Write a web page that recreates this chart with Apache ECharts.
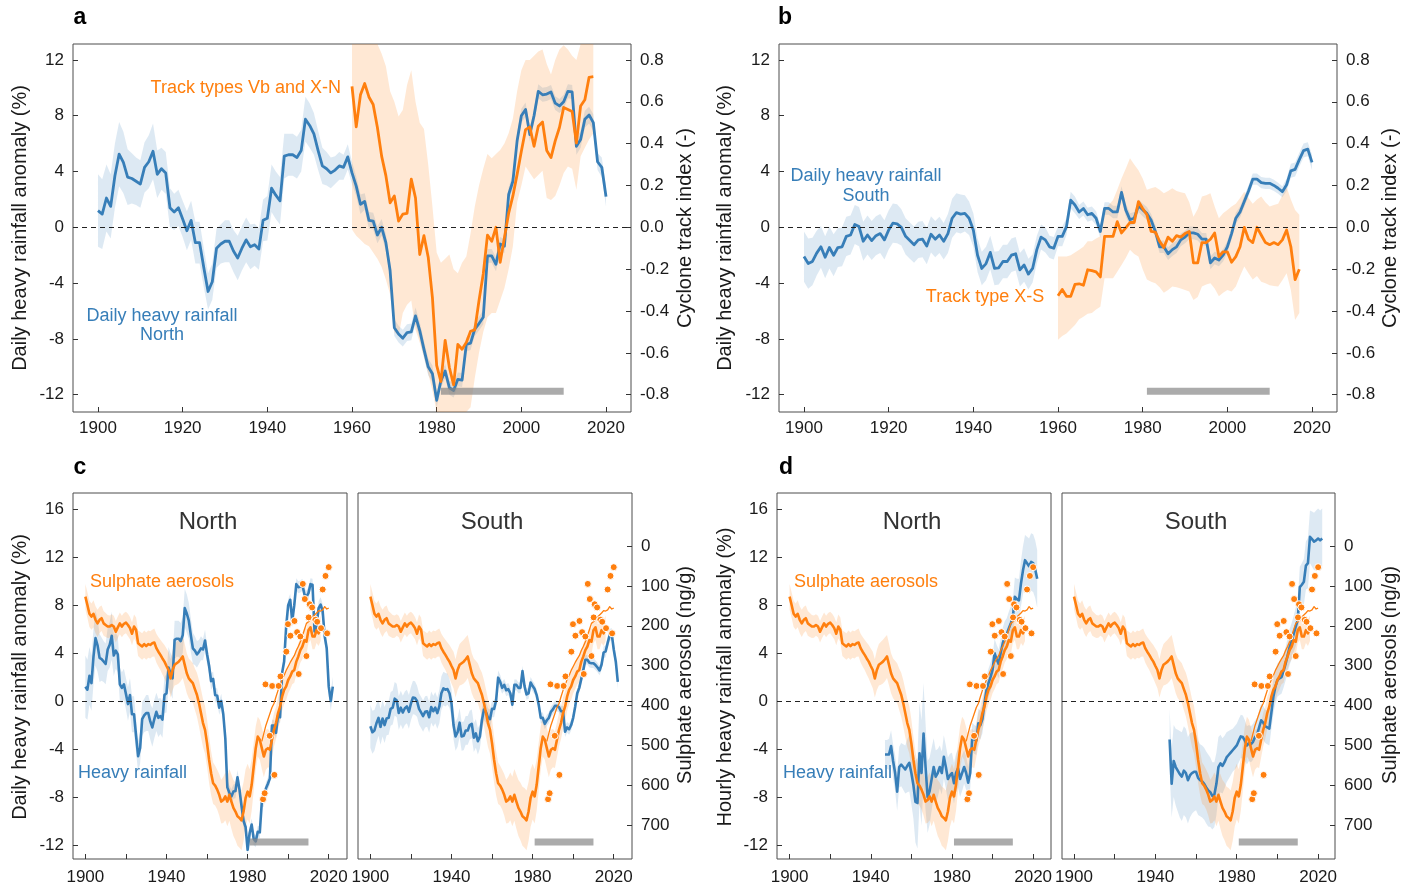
<!DOCTYPE html>
<html><head><meta charset="utf-8">
<script src="https://cdn.jsdelivr.net/npm/echarts@6/dist/echarts.min.js"></script>
<style>html,body{margin:0;padding:0;background:#fff}#c{width:1416px;height:890px}</style>
</head><body><div id="c"></div><script>
// ---------------- DATA ----------------
// Panel a: daily heavy rainfall anomaly North (%), 1900-2020
const dailyNorth = [1.2,0.95,2.1,1.5,3.7,5.25,4.65,3.6,3.5,3.3,
 3.1,4.3,4.7,5.45,3.8,4.2,3.9,1.4,1.1,1.4,
 0.6,-0.25,0.5,-1.1,-1.1,-2.9,-4.6,-3.9,-1.5,-1.2,
 -1.0,-1.0,-1.7,-2.2,-1.5,-0.9,-1.4,-1.25,-1.55,0.5,
 0.65,2.8,2.3,1.9,5.1,5.2,5.2,5.0,5.5,7.75,
 7.3,6.7,5.5,4.4,4.2,3.9,4.1,4.4,4.3,5.05,
 3.9,2.95,1.65,1.85,0.5,0.45,-0.55,0.0,-1.1,-3.1,
 -7.2,-7.65,-7.95,-7.55,-7.5,-6.35,-7.4,-8.75,-10.0,-10.5,
 -12.4,-11.0,-10.3,-11.5,-11.7,-10.9,-10.95,-8.4,-8.3,-7.3,
 -6.9,-6.45,-2.05,-2.05,-2.65,-1.2,-1.35,2.35,3.3,6.2,
 8.0,8.45,6.65,8.0,9.75,9.5,9.55,9.7,8.9,8.7,
 9.0,9.75,9.7,5.8,6.3,7.75,8.05,7.5,4.7,4.3,
 2.2];
const dailyNorthSpread = [2.6,2.5,2.4,2.3,2.3,2.3,2.2,2.0,1.8,1.7,
 1.7,1.8,1.9,2.0,1.7,1.5,1.5,1.4,1.3,1.3,
 1.3,1.4,1.4,1.5,1.5,1.4,1.3,1.3,1.4,1.4,
 1.5,1.5,1.5,1.6,1.6,1.6,1.6,1.5,1.5,1.5,
 1.6,1.7,1.7,1.7,1.6,1.5,1.5,1.5,1.5,1.6,
 1.6,1.5,1.4,1.3,1.2,1.1,1.0,1.0,0.9,0.9,
 0.8,0.7,0.7,0.6,0.6,0.6,0.6,0.6,0.6,0.6,
 0.6,0.6,0.6,0.6,0.6,0.6,0.6,0.6,0.6,0.6,
 0.5,0.5,0.5,0.5,0.5,0.5,0.5,0.5,0.5,0.5,
 0.5,0.5,0.5,0.5,0.5,0.5,0.5,0.5,0.5,0.5,
 0.5,0.5,0.5,0.5,0.5,0.5,0.5,0.5,0.5,0.5,
 0.5,0.5,0.5,0.6,0.6,0.6,0.6,0.6,0.6,0.7,
 0.7];
// Panel a: cyclone track index, track types Vb and X-N, 1960-2017
const trackVbXN = [0.673,0.48,0.633,0.687,0.623,0.587,0.477,0.34,0.247,0.117,
 0.15,0.03,0.063,0.067,0.23,0.14,-0.13,-0.04,-0.143,-0.337,
 -0.66,-0.737,-0.54,-0.67,-0.753,-0.56,-0.583,-0.55,-0.497,-0.49,
 -0.35,-0.223,-0.037,-0.067,0.0,-0.167,-0.05,0.067,0.15,0.253,
 0.363,0.467,0.48,0.387,0.483,0.503,0.367,0.333,0.413,0.477,
 0.573,0.563,0.553,0.403,0.58,0.61,0.717,0.72];
const trackVbXNHigh = [0.93,0.93,0.93,0.93,0.93,0.93,0.92,0.83,0.77,0.65,
 0.6,0.53,0.56,0.68,0.75,0.6,0.5,0.47,0.3,0.1,
 -0.12,-0.17,-0.15,-0.13,-0.2,-0.22,-0.17,-0.14,-0.03,0.1,
 0.2,0.28,0.35,0.33,0.35,0.37,0.4,0.45,0.52,0.65,
 0.75,0.8,0.8,0.82,0.84,0.85,0.78,0.73,0.8,0.85,
 0.87,0.85,0.82,0.8,0.93,0.93,0.93,0.93];
const trackVbXNLow = [-0.01,-0.04,-0.06,-0.08,-0.09,-0.12,-0.15,-0.19,-0.25,-0.32,
 -0.5,-0.52,-0.41,-0.37,-0.35,-0.49,-0.55,-0.62,-0.7,-0.78,
 -0.92,-0.92,-0.92,-0.92,-0.92,-0.92,-0.92,-0.92,-0.86,-0.72,
 -0.6,-0.5,-0.43,-0.41,-0.41,-0.35,-0.29,-0.2,-0.09,0.12,
 0.2,0.29,0.26,0.23,0.25,0.27,0.14,0.13,0.15,0.2,
 0.26,0.29,0.28,0.18,0.34,0.38,0.42,0.45];
// Panel b: daily heavy rainfall anomaly South (%), 1900-2020
const dailySouth = [-2.1,-2.6,-2.45,-1.85,-1.4,-2.15,-1.45,-2.0,-1.45,-1.4,
 -0.65,-0.55,0.2,0.05,-1.0,-0.55,-0.95,-0.6,-0.45,-0.9,
 -0.2,0.3,0.25,0.0,-0.65,-0.95,-1.25,-0.9,-0.85,-1.35,
 -0.5,-0.85,-0.55,-1.0,-0.45,0.65,1.05,0.95,1.0,0.65,
 -0.2,-2.0,-2.95,-2.6,-1.8,-2.95,-2.9,-2.45,-2.45,-2.0,
 -1.9,-3.05,-2.7,-3.35,-2.95,-1.6,-0.7,-0.9,-1.4,-1.5,
 -0.65,-0.65,0.05,1.95,1.6,1.1,1.35,0.9,1.0,0.65,
 -0.3,1.35,1.35,1.1,1.1,2.5,1.25,0.55,0.65,1.55,
 1.25,1.0,0.5,-0.3,-1.4,-1.4,-1.9,-1.6,-1.4,-0.9,
 -0.7,-0.4,-0.4,-0.5,-0.85,-0.85,-2.55,-2.2,-2.35,-2.0,
 -1.4,-0.45,0.65,1.1,1.85,2.6,3.45,3.45,3.2,3.15,
 3.15,3.0,2.8,2.55,3.05,4.05,4.15,4.85,5.5,5.6,
 4.65];
const dailySouthSpread = [1.8,1.8,1.7,1.6,1.5,1.5,1.5,1.5,1.4,1.4,
 1.4,1.4,1.4,1.4,1.4,1.4,1.4,1.4,1.4,1.4,
 1.4,1.4,1.4,1.3,1.3,1.3,1.3,1.3,1.3,1.3,
 1.3,1.3,1.3,1.3,1.4,1.4,1.4,1.4,1.3,1.2,
 1.2,1.2,1.2,1.2,1.2,1.2,1.2,1.2,1.2,1.2,
 1.2,1.2,1.2,1.1,1.0,1.0,0.9,0.9,0.8,0.8,
 0.7,0.7,0.6,0.6,0.6,0.5,0.5,0.5,0.5,0.5,
 0.45,0.45,0.45,0.45,0.45,0.45,0.45,0.45,0.45,0.45,
 0.45,0.45,0.45,0.45,0.45,0.45,0.45,0.45,0.45,0.45,
 0.45,0.45,0.45,0.45,0.45,0.45,0.45,0.45,0.45,0.45,
 0.4,0.4,0.4,0.4,0.4,0.4,0.4,0.4,0.4,0.4,
 0.4,0.4,0.4,0.4,0.45,0.5,0.5,0.5,0.5,0.5,
 0.55];
// Panel b: cyclone track index, track type X-S, 1960-2017
const trackXS = [-0.327,-0.297,-0.33,-0.33,-0.273,-0.27,-0.277,-0.203,-0.207,-0.213,
 -0.237,-0.043,-0.043,-0.043,0.027,-0.027,-0.003,0.023,0.023,0.123,
 0.09,0.06,-0.02,-0.023,-0.067,-0.097,-0.047,-0.067,-0.04,-0.047,
 -0.03,-0.02,-0.17,-0.17,-0.073,-0.073,-0.057,-0.027,-0.14,-0.117,
 -0.117,-0.167,-0.14,-0.093,0.0,-0.057,-0.073,0.0,-0.037,-0.073,
 -0.083,-0.073,-0.083,-0.06,-0.013,-0.093,-0.25,-0.2];
const trackXSHigh = [-0.14,-0.14,-0.14,-0.133,-0.12,-0.107,-0.093,-0.067,-0.067,-0.053,
 -0.043,0.083,0.107,0.13,0.18,0.233,0.28,0.33,0.3,0.273,
 0.233,0.18,0.187,0.193,0.18,0.163,0.173,0.187,0.173,0.167,
 0.163,0.12,0.05,0.087,0.147,0.153,0.163,0.1,0.043,0.067,
 0.083,0.1,0.113,0.14,0.17,0.14,0.113,0.133,0.147,0.12,
 0.1,0.107,0.113,0.153,0.193,0.133,0.083,0.06];
const trackXSLow = [-0.537,-0.52,-0.507,-0.487,-0.467,-0.44,-0.427,-0.413,-0.41,-0.393,
 -0.38,-0.243,-0.243,-0.243,-0.213,-0.18,-0.147,-0.107,-0.127,-0.14,
 -0.2,-0.25,-0.26,-0.267,-0.287,-0.313,-0.3,-0.283,-0.287,-0.293,
 -0.3,-0.307,-0.347,-0.333,-0.283,-0.273,-0.267,-0.293,-0.33,-0.313,
 -0.3,-0.307,-0.283,-0.233,-0.187,-0.22,-0.25,-0.233,-0.26,-0.267,
 -0.277,-0.28,-0.283,-0.253,-0.22,-0.3,-0.443,-0.41];
// Panels c: daily heavy rainfall, extended to 2022
const dailyNorthC = dailyNorth.slice(0, 118).concat([5.4, 4.4, 1.2, 0.0, 1.2]);
const dailyNorthCSpread = dailyNorthSpread.slice(0, 118).concat([0.6, 0.7, 0.8, 0.8, 0.8]);
const dailySouthC = dailySouth.slice(0, 120).concat([4.3, 3.3, 1.6]);
const dailySouthCSpread = dailySouthSpread.slice(0, 120).concat([0.55, 0.6, 0.6]);
// Panel d: hourly heavy rainfall anomaly (%), 1947-2022
const hourlyNorth = [-4.45,-4.45,-4.45,-3.75,-5.0,-6.0,-7.55,-5.5,-5.3,-5.5,
 -5.7,-5.4,-5.15,-6.0,-7.0,-8.4,-8.5,-4.35,-6.0,-2.7,
 -5.5,-8.0,-7.5,-6.5,-5.5,-6.3,-6.0,-5.5,-6.0,-4.65,
 -5.5,-6.5,-6.2,-6.0,-6.85,-6.0,-5.6,-6.5,-6.0,-5.5,
 -6.0,-6.8,-6.0,-3.0,-3.2,-3.3,-1.85,-2.0,-1.5,-0.2,
 0.9,1.5,2.0,2.6,4.0,3.5,3.1,4.0,4.8,5.35,
 5.6,6.05,6.5,7.0,8.7,8.5,8.4,9.8,10.9,11.75,
 11.5,11.25,11.6,11.5,11.0,10.2];
const hourlyNorthSpread = [1.2,1.2,1.3,1.3,1.4,1.5,1.6,1.7,1.8,1.9,
 2.0,2.2,2.4,2.6,2.8,3.4,3.8,4.2,4.4,4.2,
 3.6,3.0,2.8,2.6,2.4,2.2,2.0,1.8,1.8,1.8,
 1.8,1.8,1.8,1.7,1.7,1.6,1.6,1.5,1.5,1.4,
 1.4,1.3,1.3,1.2,1.2,1.2,1.2,1.2,1.2,1.2,
 1.2,1.2,1.2,1.2,1.2,1.2,1.2,1.2,1.3,1.3,
 1.3,1.4,1.4,1.5,1.6,1.7,1.8,1.9,2.0,2.1,
 2.2,2.3,2.4,2.4,2.4,2.4];
const hourlySouth = [-3.2,-6.9,-5.0,-5.5,-5.8,-6.1,-6.3,-5.8,-6.0,-6.6,
 -6.2,-6.0,-5.9,-5.9,-6.4,-6.6,-6.7,-6.9,-7.2,-7.45,
 -7.6,-7.9,-7.8,-6.9,-5.5,-5.2,-5.4,-5.1,-4.7,-4.5,
 -4.3,-4.1,-3.9,-3.7,-3.3,-2.95,-3.0,-3.3,-3.7,-3.5,
 -3.6,-3.4,-3.0,-2.8,-2.2,-1.6,-1.8,-2.1,-2.2,-2.3,
 -1.0,0.35,1.2,1.75,1.9,2.0,2.5,3.1,3.8,4.5,
 5.0,5.6,6.2,6.75,9.5,9.7,9.95,11.3,11.5,13.7,
 13.5,13.3,13.4,13.55,13.4,13.55];
const hourlySouthSpread = [2.5,2.8,3.0,3.2,3.4,3.6,3.7,3.7,3.7,3.6,
 3.5,3.4,3.3,3.2,3.1,3.0,3.0,3.0,3.0,3.0,
 2.9,2.8,2.7,2.6,2.5,2.4,2.3,2.2,2.1,2.0,
 1.9,1.8,1.8,1.8,1.8,1.8,1.8,1.7,1.6,1.5,
 1.5,1.5,1.4,1.4,1.4,1.4,1.4,1.4,1.4,1.4,
 1.4,1.4,1.4,1.4,1.4,1.4,1.4,1.4,1.4,1.5,
 1.5,1.5,1.6,1.6,1.7,1.8,1.9,2.0,2.1,2.2,
 2.3,2.4,2.5,2.5,2.5,2.5];
// Sulphate aerosols (ng/g), smoothed record 1900-2016
const sulphate = [127,148,170,177,170,185,194,185,181,194,
 198,202,202,198,202,215,204,194,202,195,
 192,198,206,220,202,210,244,248,252,246,
 251,246,248,244,242,256,265,273,282,290,
 301,311,332,311,298,294,290,284,277,298,
 319,332,338,344,359,373,394,419,444,461,
 495,536,570,595,601,611,624,641,637,628,
 641,624,641,657,666,678,682,688,666,632,
 616,628,599,553,507,478,486,507,528,511,
 507,511,486,461,444,419,403,378,361,352,
 336,327,315,311,290,277,261,252,236,240,
 211,204,227,227,211,219,206];
const sulphateSpread = [32,32,33,33,34,34,34,33,32,31,
 30,29,28,27,27,27,27,27,27,27,
 27,28,28,29,30,31,32,33,33,34,
 34,34,34,34,35,36,37,38,40,42,
 44,46,48,50,52,54,55,55,54,52,
 50,50,50,50,52,55,58,60,60,60,
 60,58,55,52,50,50,52,55,58,60,
 62,65,68,70,72,74,75,75,74,72,
 70,68,65,60,55,50,50,52,52,50,
 48,46,44,42,40,40,38,36,35,34,
 33,32,32,32,32,32,32,32,32,32,
 32,32,32,32,32,32,32];
// Sulphate aerosols, recent record 1987-2020 (thin line)
const sulphateRecent = [490,470,450,435,420,405,395,378,362,350,
 335,325,312,302,292,283,275,262,252,240,
 225,210,194,190,185,178,173,168,162,163,
 160,152,158,156];
// Sulphate aerosols, annual observations [year, ng/g]
const sulphateObs = [[1987.6,635],[1988.4,620],[1988.8,347],[1990.9,476],[1992.1,351],[1993.2,574],
 [1995.3,351],[1996.2,327],[1999.1,265],[1999.9,196],[2001.1,225],[2003.1,188],[2004.4,216],
 [2005.2,321],[2006,227],[2007.2,95],[2008.2,133],[2009,276],[2010.1,179],[2010.6,146],
 [2011.8,154],[2013.4,185],[2014.3,190],[2016.2,206],[2017,109],[2018.4,75],[2019.2,219],[2020,53]];
const referencePeriod = [1981, 2010];
const yearTicks = [1900,1920,1940,1960,1980,2000,2020];
const yearLabelsCD = [1900,1940,1980,2020];
const anomalyTicksAB = [-12,-8,-4,0,4,8,12];
const indexTicks = [-0.8,-0.6,-0.4,-0.2,0,0.2,0.4,0.6,0.8];
const anomalyTicksCD = [-12,-8,-4,0,4,8,12,16];
const sulphateTicks = [0,100,200,300,400,500,600,700];

// ---------------- STYLE ----------------
const FONT = '"Liberation Sans", Arial, Helvetica, sans-serif';
const BLUE = '#377eb8', ORANGE = '#ff7f0e';
const BLUE_BAND = 'rgba(55,126,184,0.17)', ORANGE_BAND = 'rgba(255,127,14,0.18)';
const REF_Y = -11.75;

const span = (start, n) => Array.from({length: n}, (_, i) => start + i);
const pairs = (xs, ys) => xs.map((x, i) => [x, ys[i]]);

const grids = [
  {left: 73, top: 44, width: 558, height: 368},
  {left: 779, top: 44, width: 558, height: 368},
  {left: 73, top: 493, width: 274, height: 366},
  {left: 358, top: 493, width: 274, height: 366},
  {left: 777, top: 493, width: 274, height: 366},
  {left: 1062, top: 493, width: 273, height: 366}
].map(g => Object.assign(g, {show: true, borderColor: '#4d4d4d', borderWidth: 1, backgroundColor: 'transparent'}));

const labelStyle = {fontSize: 17, color: '#1a1a1a', fontFamily: FONT};
function xAx(g, min, max, labels, margin) {
  return {type: 'value', gridIndex: g, min, max, axisLine: {show: false, onZero: false}, splitLine: {show: false},
    axisTick: {show: true, inside: true, length: 5, lineStyle: {color: '#333'}, customValues: yearTicks},
    axisLabel: Object.assign({show: true, customValues: labels, margin: margin, formatter: v => String(v)}, labelStyle)};
}
function yAx(g, pos, min, max, ticks, showLab, fmt, inverse) {
  return {type: 'value', gridIndex: g, position: pos, min, max, inverse: !!inverse,
    axisLine: {show: false, onZero: false}, splitLine: {show: false},
    axisTick: {show: showLab, inside: true, length: 5, lineStyle: {color: '#333'}, customValues: ticks},
    axisLabel: Object.assign({show: showLab, customValues: ticks, margin: 9, formatter: fmt || (v => String(v))}, labelStyle)};
}
const idxFmt = v => (Math.abs(v) < 1e-9 ? 0 : v).toFixed(1);

const xAxes = [
  xAx(0, 1894.1, 2025.9, yearTicks, 8), xAx(1, 1894.1, 2025.9, yearTicks, 8),
  xAx(2, 1893.9, 2029.0, yearLabelsCD, 10), xAx(3, 1893.9, 2029.0, yearLabelsCD, 10),
  xAx(4, 1893.8, 2028.8, yearLabelsCD, 10), xAx(5, 1894.1, 2028.3, yearLabelsCD, 10)
];
const A_MIN = -13.24, A_MAX = 13.14, C_MIN = -13.17, C_MAX = 17.35, S_MIN = -133, S_MAX = 785;
const yAxes = [
  yAx(0, 'left', A_MIN, A_MAX, anomalyTicksAB, true), yAx(0, 'right', A_MIN / 15, A_MAX / 15, indexTicks, true, idxFmt),
  yAx(1, 'left', A_MIN, A_MAX, anomalyTicksAB, true), yAx(1, 'right', A_MIN / 15, A_MAX / 15, indexTicks, true, idxFmt),
  yAx(2, 'left', C_MIN, C_MAX, anomalyTicksCD, true), yAx(2, 'right', S_MIN, S_MAX, sulphateTicks, false, null, true),
  yAx(3, 'left', C_MIN, C_MAX, anomalyTicksCD, false), yAx(3, 'right', S_MIN, S_MAX, sulphateTicks, true, null, true),
  yAx(4, 'left', C_MIN, C_MAX, anomalyTicksCD, true), yAx(4, 'right', S_MIN, S_MAX, sulphateTicks, false, null, true),
  yAx(5, 'left', C_MIN, C_MAX, anomalyTicksCD, false), yAx(5, 'right', S_MIN, S_MAX, sulphateTicks, true, null, true)
];

const series = [];
// shaded uncertainty range: one polygon through the library's coordinate mapping
function band(g, yi, xs, lo, hi, color) {
  const data = xs.map((x, i) => [x, lo[i], hi[i]]);
  series.push({type: 'custom', xAxisIndex: g, yAxisIndex: yi, silent: true, z: 1,
    encode: {x: 0, y: [1, 2]}, data,
    renderItem: (params, api) => {
      if (params.dataIndex !== 0) return null;
      const cs = params.coordSys;
      const clampY = p => [p[0], Math.max(cs.y, Math.min(cs.y + cs.height, p[1]))];
      const up = [], dn = [];
      for (let i = 0; i < data.length; i++) {
        up.push(clampY(api.coord([api.value(0, i), api.value(2, i)])));
        dn.push(clampY(api.coord([api.value(0, i), api.value(1, i)])));
      }
      return {type: 'polygon', shape: {points: up.concat(dn.reverse())}, style: {fill: color}};
    }});
}
function line(g, yi, xs, ys, color, width, z, zeroLine) {
  const s = {type: 'line', xAxisIndex: g, yAxisIndex: yi, data: pairs(xs, ys), symbol: 'none',
    lineStyle: {color, width, join: 'round'}, silent: true, z};
  if (zeroLine) s.markLine = {silent: true, symbol: ['none', 'none'], label: {show: false},
    lineStyle: {color: '#222', width: 1, type: [5, 4]}, data: [{yAxis: 0}]};
  series.push(s);
}
function refBar(g) {
  series.push({type: 'line', xAxisIndex: g, yAxisIndex: 2 * g,
    data: referencePeriod.map(x => [x, REF_Y]), symbol: 'none',
    lineStyle: {color: '#888', width: 7, opacity: 0.7, cap: 'butt'}, silent: true, z: 6});
}
const spreadLo = (v, s) => v.map((x, i) => x - s[i]);
const spreadHi = (v, s) => v.map((x, i) => x + s[i]);

// Panel a
const y1900 = span(1900, 121), y1960 = span(1960, 58);
band(0, 0, y1900, spreadLo(dailyNorth, dailyNorthSpread), spreadHi(dailyNorth, dailyNorthSpread), BLUE_BAND);
line(0, 0, y1900, dailyNorth, BLUE, 2.8, 3, true);
band(0, 1, y1960, trackVbXNLow, trackVbXNHigh, ORANGE_BAND);
line(0, 1, y1960, trackVbXN, ORANGE, 2.8, 4);
refBar(0);
// Panel b
band(1, 2, y1900, spreadLo(dailySouth, dailySouthSpread), spreadHi(dailySouth, dailySouthSpread), BLUE_BAND);
line(1, 2, y1900, dailySouth, BLUE, 2.8, 3, true);
band(1, 3, y1960, trackXSLow, trackXSHigh, ORANGE_BAND);
line(1, 3, y1960, trackXS, ORANGE, 2.8, 4);
refBar(1);
// Panels c, d
const y1900c = span(1900, 123), y1947 = span(1947, 76), ySul = span(1900, sulphate.length), yRec = span(1987, sulphateRecent.length);
const cd = [
  [2, dailyNorthC, dailyNorthCSpread, y1900c],
  [3, dailySouthC, dailySouthCSpread, y1900c],
  [4, hourlyNorth, hourlyNorthSpread, y1947],
  [5, hourlySouth, hourlySouthSpread, y1947]
];
cd.forEach(([g, v, s, xs]) => {
  band(g, 2 * g, xs, spreadLo(v, s), spreadHi(v, s), BLUE_BAND);
  line(g, 2 * g, xs, v, BLUE, 2.6, 3, true);
  band(g, 2 * g + 1, ySul, spreadLo(sulphate, sulphateSpread), spreadHi(sulphate, sulphateSpread), ORANGE_BAND);
  line(g, 2 * g + 1, ySul, sulphate, ORANGE, 2.6, 4);
  line(g, 2 * g + 1, yRec, sulphateRecent, ORANGE, 1.3, 5);
  series.push({type: 'scatter', xAxisIndex: g, yAxisIndex: 2 * g + 1, data: sulphateObs, symbol: 'circle', symbolSize: 7,
    itemStyle: {color: ORANGE, borderColor: '#fff', borderWidth: 1, opacity: 1}, silent: true, z: 7});
  refBar(g);
});

// ---------------- TEXT ----------------
function txt(text, x, y, opt) {
  opt = opt || {};
  return {type: 'text', x, y, rotation: opt.rot || 0, z: 100,
    style: {text, fill: opt.color || '#1a1a1a', font: (opt.weight || 'normal') + ' ' + (opt.size || 18) + 'px ' + FONT,
      textAlign: opt.align || 'center', textVerticalAlign: 'middle', align: opt.align || 'center', verticalAlign: 'middle'}};
}
const R = Math.PI / 2;
const graphic = [
  txt('a', 80, 18, {weight: 'bold', size: 23, color: '#000'}),
  txt('b', 785, 18, {weight: 'bold', size: 23, color: '#000'}),
  txt('c', 80, 468, {weight: 'bold', size: 23, color: '#000'}),
  txt('d', 786, 468, {weight: 'bold', size: 23, color: '#000'}),
  txt('Daily heavy rainfall anomaly (%)', 20, 228, {rot: R, size: 20}),
  txt('Cyclone track index (-)', 685, 228, {rot: R, size: 20}),
  txt('Daily heavy rainfall anomaly (%)', 725, 228, {rot: R, size: 20}),
  txt('Cyclone track index (-)', 1390, 228, {rot: R, size: 20}),
  txt('Daily heavy rainfall anomaly (%)', 20, 677, {rot: R, size: 20}),
  txt('Sulphate aerosols (ng/g)', 685, 675, {rot: R, size: 20}),
  txt('Hourly heavy rainfall anomaly (%)', 725, 677, {rot: R, size: 20}),
  txt('Sulphate aerosols (ng/g)', 1390, 675, {rot: R, size: 20}),
  txt('Track types Vb and X-N', 341, 88, {align: 'right', color: ORANGE}),
  txt('Daily heavy rainfall', 162, 316, {color: BLUE}),
  txt('North', 162, 335, {color: BLUE}),
  txt('Daily heavy rainfall', 866, 176, {color: BLUE}),
  txt('South', 866, 196, {color: BLUE}),
  txt('Track type X-S', 985, 297, {color: ORANGE}),
  txt('Sulphate aerosols', 90, 582, {align: 'left', color: ORANGE}),
  txt('Heavy rainfall', 78, 773, {align: 'left', color: BLUE}),
  txt('Sulphate aerosols', 794, 582, {align: 'left', color: ORANGE}),
  txt('Heavy rainfall', 783, 773, {align: 'left', color: BLUE}),
  txt('North', 208, 522, {size: 24, color: '#333'}),
  txt('South', 492, 522, {size: 24, color: '#333'}),
  txt('North', 912, 522, {size: 24, color: '#333'}),
  txt('South', 1196, 522, {size: 24, color: '#333'})
];

const chart = echarts.init(document.getElementById('c'), null, {renderer: 'canvas'});
chart.setOption({animation: false, backgroundColor: '#fff', textStyle: {fontFamily: FONT},
  grid: grids, xAxis: xAxes, yAxis: yAxes, series, graphic});
</script></body></html>
